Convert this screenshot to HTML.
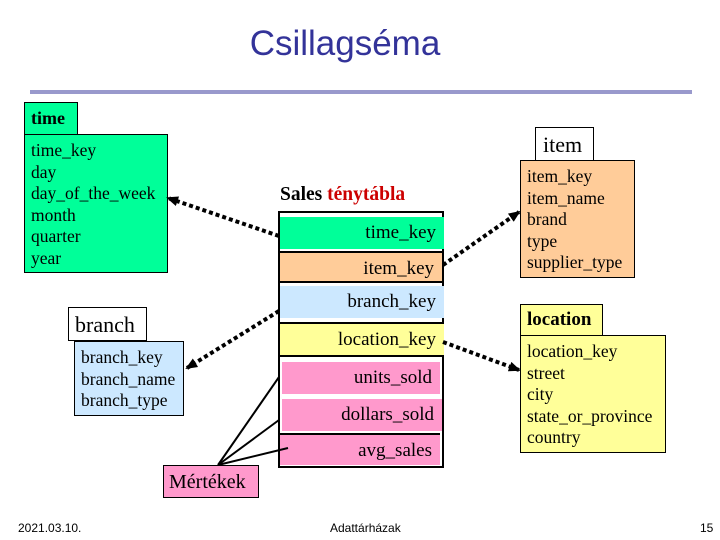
<!DOCTYPE html>
<html><head><meta charset="utf-8"><style>
body{margin:0;width:720px;height:540px;background:#fff;position:relative;overflow:hidden;font-family:"Liberation Serif",serif}
.a{position:absolute;box-sizing:border-box}
.b{border:1px solid #000}
.t{font-size:17.5px;line-height:21.6px;padding:5px 0 0 6px;color:#000;white-space:nowrap}
.r{position:absolute;left:2px;width:162px;height:32px;text-align:right;padding-right:8px;font-size:19px;line-height:32px;box-sizing:border-box;white-space:nowrap}
</style></head><body>
<div class="a" style="left:0;top:24px;width:690px;text-align:center;font-family:'Liberation Sans',sans-serif;font-size:35px;color:#333399">Csillagséma</div>
<div class="a" style="left:30px;top:90px;width:662px;height:4px;background:#9999cc"></div>

<div class="a b" style="left:24px;top:102px;width:54px;height:33px;background:#00ff99;font-weight:bold;font-size:18px;padding:5px 0 0 6px">time</div>
<div class="a b t" style="left:24px;top:134px;width:144px;height:139px;background:#00ff99">time_key<br>day<br>day_of_the_week<br>month<br>quarter<br>year</div>

<div class="a b" style="left:535px;top:127px;width:59px;height:34px;background:#fff;font-size:22px;padding:4px 0 0 7px">item</div>
<div class="a b t" style="left:520px;top:160px;width:115px;height:118px;background:#ffcc99">item_key<br>item_name<br>brand<br>type<br>supplier_type</div>

<div class="a b" style="left:68px;top:307px;width:79px;height:34px;background:#fff;font-size:22px;padding:4px 0 0 6px">branch</div>
<div class="a b t" style="left:74px;top:341px;width:110px;height:75px;background:#cce8ff">branch_key<br>branch_name<br>branch_type</div>

<div class="a b" style="left:520px;top:304px;width:83px;height:32px;background:#ffff99;font-weight:bold;font-size:19px;padding:4px 0 0 6px">location</div>
<div class="a b t" style="left:520px;top:335px;width:146px;height:118px;background:#ffff99">location_key<br>street<br>city<br>state_or_province<br>country</div>

<div class="a" style="left:280px;top:184px;font-weight:bold;font-size:19.5px;white-space:nowrap">Sales <span style="color:#cc0000">ténytábla</span></div>
<div class="a" style="left:278px;top:211px;width:166px;height:257px;border:2px solid #000">
<div class="r" style="top:4px;background:#00ff99;left:0;width:164px">time_key</div>
<div class="r" style="top:38px;background:#ffcc99;border-top:2px solid #000;border-bottom:2px solid #000;left:0">item_key</div>
<div class="r" style="top:73px;background:#cce8ff;left:0;width:164px">branch_key</div>
<div class="r" style="top:109px;background:#ffff99;border-top:2px solid #000;border-bottom:2px solid #000;left:0;width:164px;height:35px">location_key</div>
<div class="r" style="top:149px;background:#ff99cc;left:2px;width:158px">units_sold</div>
<div class="r" style="top:184px;background:#ff99cc;border-top:2px solid #fff;left:2px;width:160px;height:34px">dollars_sold</div>
<div class="r" style="top:220px;background:#ff99cc;border-top:2px solid #000;left:0;width:160px">avg_sales</div>
</div>

<div class="a b" style="left:163px;top:465px;width:96px;height:33px;background:#ff99cc;font-size:20px;padding:5px 0 0 5px;white-space:nowrap">Mértékek</div>

<svg class="a" style="left:0;top:0" width="720" height="540">
<defs><marker id="m" markerUnits="userSpaceOnUse" markerWidth="12" markerHeight="12" refX="10" refY="6" orient="auto"><path d="M0,1L12,6L0,11z" fill="#000"/></marker></defs>
<g stroke="#000" stroke-width="4" stroke-dasharray="4,3" fill="none" marker-end="url(#m)">
<line x1="279" y1="236" x2="168" y2="198"/>
<line x1="443" y1="265" x2="519" y2="212"/>
<line x1="279" y1="311" x2="187" y2="368"/>
<line x1="443" y1="342" x2="519" y2="370"/>
</g>
<g stroke="#000" stroke-width="2">
<line x1="218" y1="465" x2="279" y2="377"/>
<line x1="218" y1="465" x2="279" y2="420"/>
<line x1="218" y1="465" x2="288" y2="448"/>
</g>
</svg>

<div class="a" style="left:18px;top:521px;font-family:'Liberation Sans',sans-serif;font-size:12px">2021.03.10.</div>
<div class="a" style="left:330px;top:521px;font-family:'Liberation Sans',sans-serif;font-size:12px">Adattárházak</div>
<div class="a" style="left:700px;top:521px;font-family:'Liberation Sans',sans-serif;font-size:12px">15</div>
</body></html>
